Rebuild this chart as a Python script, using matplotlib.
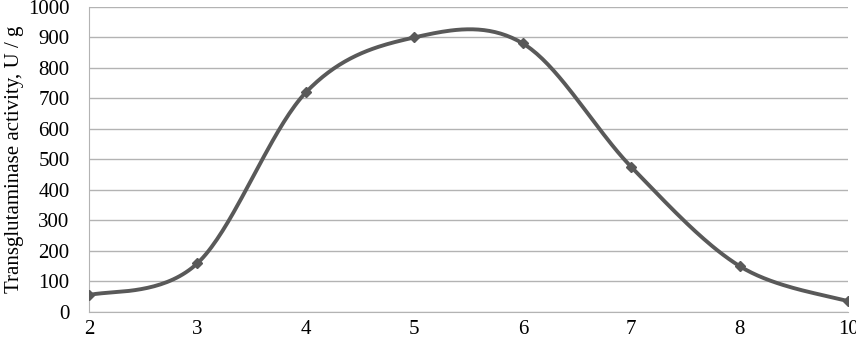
import numpy as np
import matplotlib.pyplot as plt

categories = ['2', '3', '4', '5', '6', '7', '8', '10']
activity = [55, 160, 720, 900, 880, 475, 150, 35]

plt.rcParams['font.family'] = ['Liberation Serif', 'DejaVu Serif']

# excel-style smoothed line (catmull-rom through the points)
def smooth(xs, ys, n=40):
    xs = np.asarray(xs, float)
    ys = np.asarray(ys, float)
    px = np.concatenate([[xs[0]], xs, [xs[-1]]])
    py = np.concatenate([[ys[0]], ys, [ys[-1]]])
    outx, outy = [], []
    t = np.linspace(0, 1, n)
    for i in range(1, len(px) - 2):
        p0 = np.array([px[i], py[i]])
        p3 = np.array([px[i + 1], py[i + 1]])
        c1 = p0 + (np.array([px[i + 1], py[i + 1]]) - np.array([px[i - 1], py[i - 1]])) / 6
        c2 = p3 - (np.array([px[i + 2], py[i + 2]]) - np.array([px[i], py[i]])) / 6
        b = ((1 - t) ** 3)[:, None] * p0 + (3 * (1 - t) ** 2 * t)[:, None] * c1 \
            + (3 * (1 - t) * t ** 2)[:, None] * c2 + (t ** 3)[:, None] * p3
        outx.extend(b[:, 0])
        outy.extend(b[:, 1])
    return np.array(outx), np.array(outy)

x = np.arange(len(categories))
sx, sy = smooth(x, activity)

fig, ax = plt.subplots(figsize=(8.56, 3.44), dpi=100)
fig.subplots_adjust(left=0.104, right=0.991, bottom=0.093, top=0.980)

ax.plot(sx, sy, color='#595959', lw=2.8, solid_capstyle='round', zorder=3)
ax.plot(x, activity, ls='none', marker='D', ms=5.5, color='#595959', zorder=4)

ax.set_xlim(0, len(categories) - 1)
ax.set_ylim(0, 1000)
ax.set_xticks(x)
ax.set_xticklabels(categories)
ax.set_yticks(np.arange(0, 1001, 100))
ax.yaxis.grid(True, color='#b3b3b3', lw=1)
ax.set_axisbelow(True)
for s in ['top', 'right']:
    ax.spines[s].set_visible(False)
ax.spines['left'].set_color('#b3b3b3')
ax.spines['bottom'].set_color('#b3b3b3')
ax.tick_params(axis='both', length=0, labelsize=15)
ax.tick_params(axis='y', pad=14)
ax.tick_params(axis='x', pad=6)
ax.set_ylabel('Transglutaminase activity, U / g', fontsize=15, labelpad=3)

plt.savefig('out.png', dpi=100)
